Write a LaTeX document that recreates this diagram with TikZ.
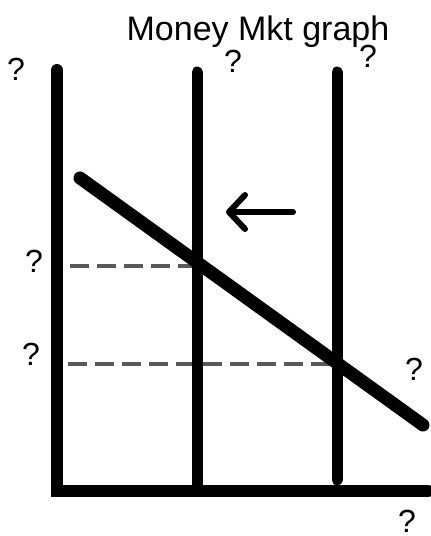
\documentclass[tikz,border=0pt]{standalone}
\usepackage{fontspec}
\setmainfont{Liberation Sans}
\usetikzlibrary{arrows.meta}
\begin{document}
\begin{tikzpicture}[x=1pt,y=-1pt,
  axisline/.style={line width=12pt,line cap=round,black},
  demand/.style={line width=13pt,line cap=round,black},
  guide/.style={line width=3.5pt,draw=black!65,dash pattern=on 19pt off 8pt},
  shift arrow/.style={line width=6pt,line cap=round,-{Straight Barb[length=16pt,width=34pt,line cap=round,line join=round]}},
  qlabel/.style={anchor=base,inner sep=0pt,font=\fontsize{32}{36}\selectfont},
  titlelabel/.style={anchor=base,inner sep=0pt,font=\fontsize{34}{40}\selectfont}]
\useasboundingbox (0,0) rectangle (431,536);
% coordinates
\coordinate (ytop) at (57,70);
\coordinate (origin) at (57,491);
\coordinate (xend) at (428,491);
\coordinate (m1top) at (197,72);
\coordinate (m1bot) at (197,491);
\coordinate (m2top) at (337,72);
\coordinate (m2bot) at (337,480);
\coordinate (dtop) at (80,178);
\coordinate (dbot) at (423,425);
\coordinate (h1l) at (70,266);
\coordinate (h1r) at (197,266);
\coordinate (h2l) at (68,364);
\coordinate (h2r) at (337,364);
\coordinate (arrS) at (293,212);
\coordinate (arrE) at (226,212);
% lines
\draw[guide] (h1l) -- (h1r);
\draw[guide] (h2l) -- (h2r);
\draw[axisline] (ytop) -- (origin) -- (xend);
\draw[axisline,line width=11pt] (m1top) -- (m1bot);
\draw[axisline,line width=11pt] (m2top) -- (m2bot);
\draw[demand] (dtop) -- (dbot);
\draw[shift arrow] (arrS) -- (arrE);
% labels
\node[titlelabel] (title) at (258,40) {Money Mkt graph};
\node[qlabel] (q1) at (16,80) {?};
\node[qlabel] (q2) at (233,72) {?};
\node[qlabel] (q3) at (368,67) {?};
\node[qlabel] (q4) at (34,272) {?};
\node[qlabel] (q5) at (31,365) {?};
\node[qlabel] (q6) at (414,380) {?};
\node[qlabel] (q7) at (407,532) {?};
\end{tikzpicture}
\end{document}
